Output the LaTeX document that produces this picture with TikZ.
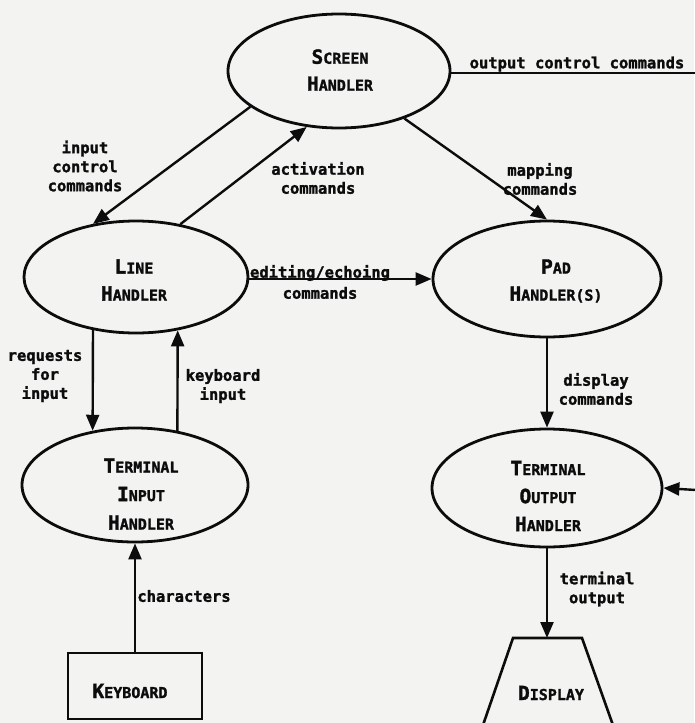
\documentclass[tikz,border=0pt]{standalone}
\usepackage{fontspec}
\newfontfamily\heavy[FakeBold=1.6]{DejaVu Sans Mono Bold}
\usetikzlibrary{shapes.geometric,arrows.meta}
\definecolor{paper}{RGB}{243,243,241}
\definecolor{ink}{RGB}{12,12,12}
\newcommand\capsc[2]{{\fontsize{19.5}{27}\selectfont #1}#2}
\tikzset{
  proc/.style={draw=ink,line width=2.8pt,ellipse,inner sep=0pt},
  ntext/.style={text=ink,align=center,inner sep=0pt,font=\heavy\fontsize{15}{27}\selectfont},
  elabel/.style={text=ink,align=center,inner sep=0pt,font=\heavy\fontsize{15.5}{19}\selectfont},
  conn/.style={draw=ink,line width=2.4pt},
  arr/.style={conn,-{Triangle[length=16pt,width=13pt]}}
}
\begin{document}
\begin{tikzpicture}[x=1pt,y=-1pt]
\fill[paper] (0,0) rectangle (694,723);
\useasboundingbox (0,0) rectangle (694,723);

% process ellipses
\node[proc,minimum width=222pt,minimum height=114pt] (screen) at (339,71) {};
\node[proc,minimum width=224pt,minimum height=112pt] (line) at (136,277) {};
\node[proc,minimum width=228pt,minimum height=116pt] (pad) at (547,279) {};
\node[proc,minimum width=226pt,minimum height=114pt] (tin) at (135,485) {};
\node[proc,minimum width=230pt,minimum height=118pt] (tout) at (547,488) {};

% node texts
\node[ntext] (screenT) at (340,70) {\capsc{S}{CREEN}\\\capsc{H}{ANDLER}};
\node[ntext] (lineT) at (134,280) {\capsc{L}{INE}\\\capsc{H}{ANDLER}};
\node[ntext] (padT) at (556,281) {\capsc{P}{AD}\\\capsc{H}{ANDLER(S)}};
\node[ntext,font=\heavy\fontsize{15}{28.5}\selectfont] (tinT) at (141,494) {\capsc{T}{ERMINAL}\\\capsc{I}{NPUT}\\\capsc{H}{ANDLER}};
\node[ntext,font=\heavy\fontsize{15}{28}\selectfont] (toutT) at (548,496) {\capsc{T}{ERMINAL}\\\capsc{O}{UTPUT}\\\capsc{H}{ANDLER}};

% keyboard box
\node[draw=ink,line width=2.6pt,minimum width=134pt,minimum height=66pt,inner sep=0pt] (kbd) at (135,686) {};
\node[ntext] (kbdT) at (130,691) {\capsc{K}{EYBOARD}};

% display trapezoid
\coordinate (disptop) at (547,638);
\draw[ink,line width=2.6pt,line join=miter] (482,728) -- (513,638) -- (582,638) -- (614,728);
\node[ntext] (dispT) at (551,693) {\capsc{D}{ISPLAY}};

% free ends at the right edge
\coordinate (ocend) at (696,73);
\coordinate (inright) at (696,490);

% connectors
\draw[conn] (screen.east |- ocend) -- (ocend);
\draw[arr] (screen.202) -- (line.129);
\draw[arr] (line.50) -- (screen.240);
\draw[arr] (screen.324) -- (pad.north);
\draw[arr] (line.east |- 0,279) -- (pad.west);
\draw[arr] (line.231) -- (tin.128);
\draw[arr] (tin.52) -- (line.308);
\draw[arr] (pad.south) -- (tout.north);
\draw[arr] (tout.south) -- (disptop);
\draw[arr] (kbd.north) -- (tin.south);
\draw[arr] (inright) -- (tout.east);

% connector labels
\node[elabel] (lOC) at (577,64) {output control commands};
\node[elabel] (lIC) at (85,166) {input\\control\\commands};
\node[elabel] (lAC) at (318,178) {activation\\commands};
\node[elabel] (lMC) at (540,179) {mapping\\commands};
\node[elabel,font=\heavy\fontsize{15.5}{21}\selectfont] (lEE) at (320,282) {editing/echoing\\commands};
\node[elabel] (lRI) at (45,376) {requests\\for\\input};
\node[elabel] (lKI) at (223,386) {keyboard\\input};
\node[elabel] (lDC) at (596,389) {display\\commands};
\node[elabel] (lTO) at (597,589) {terminal\\output};
\node[elabel] (lCH) at (184,596) {characters};
\end{tikzpicture}
\end{document}
